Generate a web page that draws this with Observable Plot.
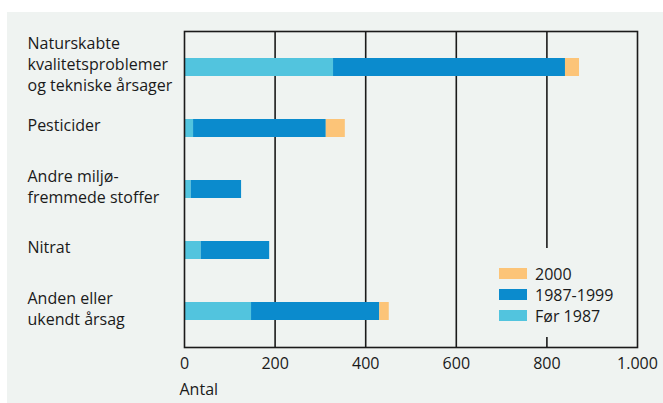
<!DOCTYPE html>
<html>
<head>
<meta charset="utf-8">
<script src="https://cdn.jsdelivr.net/npm/d3@7"></script>
<script src="https://cdn.jsdelivr.net/npm/@observablehq/plot@0.6"></script>
<style>
  body { margin: 0; background: #ffffff; }
  #wrap { position: relative; width: 663px; height: 403px; overflow: hidden; background: #ffffff; font-family: "Open Sans", sans-serif; }
  #panel { position: absolute; left: 7px; top: 12px; right: 0; bottom: 0; background: #eff3f1; }
  #chart { position: absolute; left: 0; top: 0; }
  #legend { position: absolute; left: 480px; top: 248px; width: 145px; height: 89px; background: #eff3f1; }
  .item { position: absolute; left: 19px; height: 21px; display: flex; align-items: center; font-size: 16px; color: #1a1a1a; }
  .sw { width: 28px; height: 11px; margin-right: 8px; }
</style>
</head>
<body>
<div id="wrap">
  <div id="panel"></div>
  <div id="chart"></div>
  <div id="legend"></div>
</div>
<script>
const categories = [
  "Naturskabte\nkvalitetsproblemer\nog tekniske årsager",
  "Pesticider",
  "Andre miljø-\nfremmede stoffer",
  "Nitrat",
  "Anden eller\nukendt årsag"
];
const series = ["Før 1987", "1987-1999", "2000"];
const colors = ["#52c4de", "#0b8bcd", "#fcc478"];
const before1987 = [329, 20, 15, 37, 148];
const from1987to1999 = [512, 293, 111, 151, 283];
const year2000 = [31, 42, 0, 0, 21];
const xTicks = [0, 200, 400, 600, 800, 1000];
const xTickLabels = ["0", "200", "400", "600", "800", "1.000"];
const gridValues = [200, 400, 600, 800];
const axisTitle = "Antal";

const seriesValues = [before1987, from1987to1999, year2000];
const rows = [];
categories.forEach((c, i) => {
  series.forEach((s, j) => {
    rows.push({category: c, series: s, value: seriesValues[j][i]});
  });
});

const chart = Plot.plot({
  width: 663,
  height: 403,
  marginLeft: 184,
  marginRight: 26,
  marginTop: 31,
  marginBottom: 56,
  style: {background: "transparent", fontFamily: "Open Sans, sans-serif", fontSize: "16px", color: "#1a1a1a"},
  x: {domain: [0, 1000], label: null},
  y: {domain: categories, paddingInner: 0.707, paddingOuter: 0.4225, axis: null},
  color: {domain: series, range: colors},
  marks: [
    Plot.ruleX(gridValues, {stroke: "#1a1a1a", strokeWidth: 1.6}),
    Plot.barX(rows, {y: "category", x: "value", fill: "series"}),
    Plot.frame({stroke: "#1a1a1a", strokeWidth: 1.6}),
    Plot.axisX(xTicks, {
      label: null,
      tickSize: 0,
      tickPadding: 10,
      fontSize: 16,
      tickFormat: d => xTickLabels[xTicks.indexOf(d)]
    }),
    Plot.text([axisTitle], {frameAnchor: "bottom-left", textAnchor: "start", dx: -5, dy: 47, fontSize: 16, fill: "#1a1a1a"}),
    Plot.text(categories, {y: d => d, text: d => d, frameAnchor: "left", textAnchor: "start", dx: -157, dy: -4, lineHeight: 1.3, fontSize: 16, fill: "#1a1a1a"})
  ]
});
document.getElementById("chart").appendChild(chart);

const legend = document.getElementById("legend");
[...series].reverse().forEach((s, k) => {
  const item = document.createElement("div");
  item.className = "item";
  item.style.top = (15 + k * 21) + "px";
  const sw = document.createElement("span");
  sw.className = "sw";
  sw.style.background = colors[series.indexOf(s)];
  const t = document.createElement("span");
  t.textContent = s;
  item.appendChild(sw);
  item.appendChild(t);
  legend.appendChild(item);
});
</script>
</body>
</html>
